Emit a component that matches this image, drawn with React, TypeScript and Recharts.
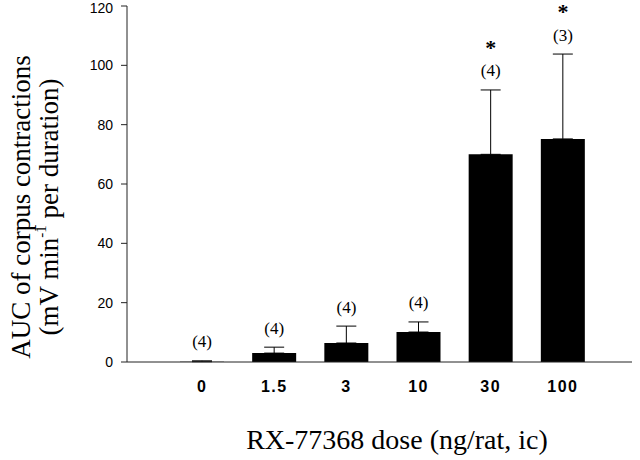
import React from 'react';
import { ComposedChart, Bar, ErrorBar, Scatter, XAxis, YAxis } from 'recharts';

const doses = ['0', '1.5', '3', '10', '30', '100'];
const means = [0.1, 3.0, 6.4, 10.1, 70.0, 75.2];
const sems = [0.3, 2.0, 5.7, 3.4, 21.7, 28.6];
const nValues = [4, 4, 4, 4, 4, 3];
const significant = [false, false, false, false, true, true];
const yTicks = [0, 20, 40, 60, 80, 100, 120];

const data = doses.map((dose, i) => ({
  dose,
  mean: means[i],
  err: [0, sems[i]],
  errTop: means[i] + sems[i],
  n: nValues[i],
  sig: significant[i],
}));

const serif = '"Liberation Serif", "Times New Roman", serif';
const sans = '"Liberation Sans", Arial, sans-serif';

const renderMarks = (props: any) => {
  const { cx, cy, payload } = props;
  return (
    <g>
      <text x={cx} y={cy - 19} textAnchor="middle" dominantBaseline="central" fontFamily={serif} fontSize={17} fill="#000">
        {`(${payload.n})`}
      </text>
      {payload.sig && (
        <text x={cx} y={cy - 35} textAnchor="middle" fontFamily={serif} fontSize={22} fontWeight="bold" fill="#000">
          *
        </text>
      )}
    </g>
  );
};

const renderYLabel = () => (
  <g>
    <text x={21} y={207} transform="rotate(-90, 21, 207)" textAnchor="middle" dominantBaseline="central" fontFamily={serif} fontSize={27} fill="#000">
      AUC of corpus contractions
    </text>
    <text x={49} y={207} transform="rotate(-90, 49, 207)" textAnchor="middle" dominantBaseline="central" fontFamily={serif} fontSize={27} fill="#000">
      (mV min<tspan fontSize={15} dy={-8}>-1</tspan><tspan dy={8}> per duration)</tspan>
    </text>
  </g>
);

const renderXLabel = () => (
  <text x={397} y={449} textAnchor="middle" fontFamily={serif} fontSize={28} fill="#000">
    RX-77368 dose (ng/rat, ic)
  </text>
);

export default function App() {
  return (
    <div style={{ position: 'absolute', left: 0, top: 0, background: '#fff' }}>
      <ComposedChart width={640} height={460} data={data} margin={{ top: 6, right: 8, left: 0, bottom: 0 }}>
        <XAxis
          dataKey="dose"
          height={98}
          padding={{ left: 39, right: 33 }}
          tickLine={false}
          tickSize={6}
          tickMargin={13}
          stroke="#222"
          tick={{ fill: '#000', fontSize: 16, fontWeight: 'bold', fontFamily: sans, letterSpacing: 1.5 }}
          label={{ content: renderXLabel }}
        />
        <YAxis
          width={127}
          domain={[0, 120]}
          ticks={yTicks}
          tickSize={6}
          tickMargin={8}
          stroke="#222"
          tick={{ fill: '#000', fontSize: 14, fontFamily: sans }}
          label={{ content: renderYLabel }}
        />
        <Bar dataKey="mean" fill="#000" barSize={44} isAnimationActive={false}>
          <ErrorBar dataKey="err" width={10} stroke="#000" strokeWidth={1} direction="y" />
        </Bar>
        <Scatter dataKey="errTop" shape={renderMarks} isAnimationActive={false} />
      </ComposedChart>
    </div>
  );
}
